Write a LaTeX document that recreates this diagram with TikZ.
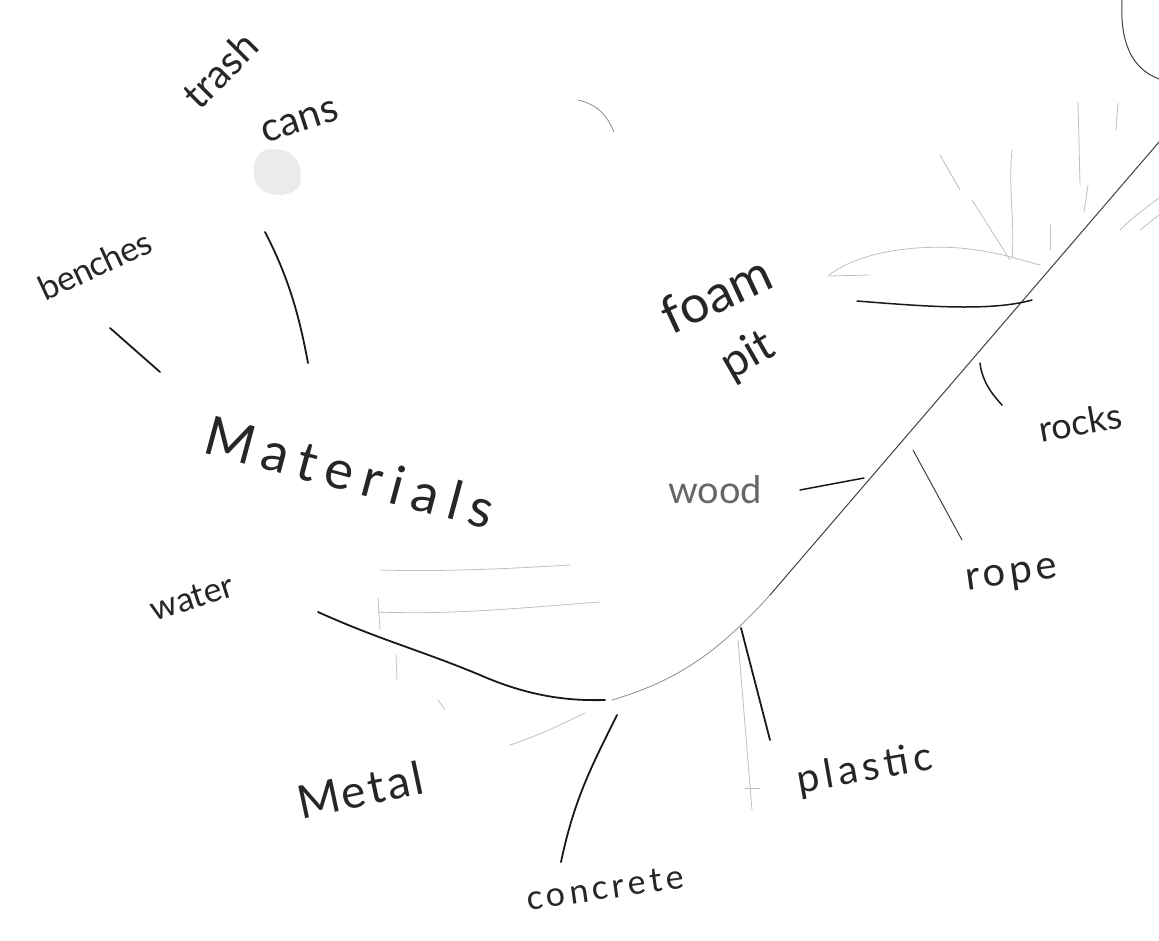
\documentclass[tikz,border=0pt]{standalone}
\usepackage{fontspec}
\setmainfont{Lato}
\begin{document}
\begin{tikzpicture}[x=1pt,y=-1pt,
  lbl/.style={text=black!85, inner sep=0pt, font=\fontsize{34}{34}\selectfont},
  pen/.style={draw=black!90, line width=1.8pt, line cap=round},
  thin/.style={draw=black!75, line width=1pt, line cap=round},
  faint/.style={draw=black!25, line width=0.8pt, line cap=round}]
\useasboundingbox (0,0) rectangle (1159,941);
% labels
\node[lbl, rotate=45, font=\fontsize{40}{40}\selectfont] (trash) at (220,70) {trash};
\node[lbl, rotate=18, font=\fontsize{40}{40}\selectfont] (cans) at (300,122) {cans};
\node[lbl, rotate=25, font=\fontsize{34}{34}\selectfont\addfontfeatures{LetterSpace=-2}] (benches) at (95,265) {benches};
\node[lbl, rotate=-15, font=\fontsize{54}{54}\selectfont\addfontfeatures{LetterSpace=18}] (materials) at (350,472) {Materials};
\node[lbl, rotate=25, font=\fontsize{52}{52}\selectfont] (foam) at (716,294) {foam};
\node[lbl, rotate=30, font=\fontsize{46}{46}\selectfont] (pit) at (748,356) {pit};
\node[lbl, rotate=10, font=\fontsize{36}{36}\selectfont] (rocks) at (1080,422) {rocks};
\node[lbl, text=black!60, font=\fontsize{38}{38}\selectfont] (wood) at (715,490) {wood};
\node[lbl, rotate=8, font=\fontsize{40}{40}\selectfont\addfontfeatures{LetterSpace=10}] (rope) at (1012,577) {rope};
\node[lbl, rotate=10, font=\fontsize{40}{40}\selectfont\addfontfeatures{LetterSpace=12}] (plastic) at (865,770) {plastic};
\node[lbl, rotate=12, font=\fontsize{46}{46}\selectfont\addfontfeatures{LetterSpace=6}] (metal) at (360,790) {Metal};
\node[lbl, rotate=8, font=\fontsize{34}{34}\selectfont\addfontfeatures{LetterSpace=12}] (concrete) at (605,888) {concrete};
\node[lbl, rotate=18, font=\fontsize{34}{34}\selectfont] (water) at (192,598) {water};
% spine
\coordinate (s1) at (1159,142);
\coordinate (s2) at (770,595);
\coordinate (s3) at (612,700);
\draw[thin] (s1) -- (s2);
\draw[faint, draw=black!45] (s2) .. controls (720,650) and (680,680) .. (s3);
% branches
\coordinate (tc1) at (265,232); \coordinate (tc2) at (308,363);
\draw[pen] (tc1) .. controls (290,280) and (300,320) .. (tc2);
\coordinate (b1) at (110,328); \coordinate (b2) at (160,372);
\draw[pen] (b1) -- (b2);
\coordinate (f1) at (857,301); \coordinate (f2) at (1032,300);
\draw[pen, line width=1.5pt] (f1) .. controls (920,306) and (990,312) .. (f2);
\coordinate (r1) at (980,363); \coordinate (r2) at (1002,405);
\draw[pen, line width=1.5pt] (r1) .. controls (982,380) and (990,392) .. (r2);
\coordinate (w1) at (800,490); \coordinate (w2) at (864,478);
\draw[pen, line width=1.5pt] (w1) -- (w2);
\coordinate (rp1) at (913,450); \coordinate (rp2) at (962,540);
\draw[thin] (rp1) -- (rp2);
\coordinate (p1) at (741,628); \coordinate (p2) at (770,740);
\draw[pen] (p1) -- (p2);
\draw[faint] (738,640) -- (752,810);
\draw[faint] (745,788) -- (760,788);
\coordinate (c1) at (617,715); \coordinate (c2) at (561,862);
\draw[pen] (c1) .. controls (595,760) and (575,795) .. (c2);
\coordinate (wa1) at (318,612); \coordinate (wa2) at (605,700);
\draw[pen] (wa1) .. controls (380,640) and (420,650) .. (480,675) .. controls (530,697) and (570,701) .. (wa2);
% top right arc and stray mark
\draw[thin] (1122,0) .. controls (1120,40) and (1130,68) .. (1159,79);
\draw[faint, draw=black!45] (578,100) .. controls (600,105) and (608,118) .. (614,132);
% faint pencil strokes
\draw[faint] (378,612) .. controls (450,615) and (520,608) .. (600,602);
\draw[faint] (380,570) .. controls (450,572) and (520,568) .. (570,565);
\draw[faint] (378,598) -- (380,630);
\draw[faint] (396,655) -- (397,680);
\draw[faint] (438,700) -- (445,710);
\draw[faint] (510,745) .. controls (540,735) and (560,725) .. (585,713);
\draw[faint] (828,276) .. controls (860,250) and (920,245) .. (960,248) .. controls (1000,252) and (1020,260) .. (1040,265);
\draw[faint] (830,276) -- (870,275);
\draw[faint] (940,155) -- (960,190);
\draw[faint] (972,200) -- (1010,260);
\draw[faint] (1012,150) .. controls (1008,190) and (1015,220) .. (1012,258);
\draw[faint] (1078,102) -- (1080,185);
\draw[faint] (1118,103) -- (1116,130);
\draw[faint] (1088,185) -- (1084,212);
\draw[faint] (1050,225) -- (1050,250);
\draw[faint] (1120,230) .. controls (1135,215) and (1150,205) .. (1159,198);
\draw[faint] (1140,230) -- (1159,215);
% smudge below cans
\fill[black!8] (265,150) .. controls (290,145) and (305,160) .. (300,185) .. controls (290,200) and (260,198) .. (255,180) .. controls (252,165) and (255,155) .. (265,150);
\end{tikzpicture}
\end{document}
